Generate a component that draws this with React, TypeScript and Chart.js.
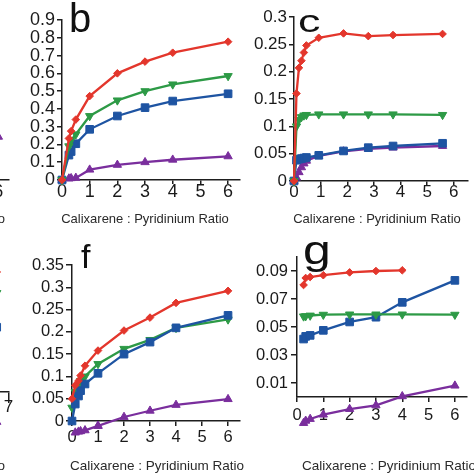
import React, { useEffect, useRef } from 'react';
import { Chart, registerables } from 'chart.js';
Chart.register(...registerables);

const RED = '#e3362c';
const GREEN = '#2d9a46';
const BLUE = '#1e54a2';
const PURPLE = '#7a2e9d';

const TITLE = 'Calixarene : Pyridinium Ratio';

// ---- Panel b ----
const bX = [0, 0.25, 0.33, 0.5, 1, 2, 3, 4, 6];
const bRed = [0, 0.234, 0.275, 0.34, 0.472, 0.6, 0.666, 0.716, 0.778];
const bGreen = [0, 0.19, 0.225, 0.257, 0.36, 0.448, 0.5, 0.538, 0.585];
const bBlue = [0, 0.14, 0.16, 0.204, 0.285, 0.36, 0.407, 0.444, 0.485];
const bPurple = [0, 0.008, 0.01, 0.012, 0.058, 0.085, 0.1, 0.114, 0.133];
const bYTicks = [0, 0.1, 0.2, 0.3, 0.4, 0.5, 0.6, 0.7, 0.8, 0.9];
const bXTicks = [0, 1, 2, 3, 4, 5, 6];

// ---- Panel c ----
const cX = [0, 0.093, 0.186, 0.279, 0.372, 0.465, 0.93, 1.86, 2.79, 3.72, 5.58];
const cRed = [0, 0.16, 0.207, 0.22, 0.235, 0.248, 0.262, 0.27, 0.265, 0.267, 0.269];
const cGreen = [0, 0.1, 0.112, 0.117, 0.12, 0.121, 0.122, 0.122, 0.122, 0.122, 0.121];
const cBlue = [0, 0.038, 0.04, 0.041, 0.042, 0.043, 0.047, 0.055, 0.061, 0.064, 0.069];
const cPurple = [0, 0.006, 0.016, 0.025, 0.032, 0.037, 0.046, 0.054, 0.059, 0.061, 0.064];
const cYTicks = [0, 0.05, 0.1, 0.15, 0.2, 0.25, 0.3];
const cXTicks = [0, 1, 2, 3, 4, 5, 6];

// ---- Panel f ----
const fX = [0, 0.125, 0.25, 0.33, 0.5, 1, 2, 3, 4, 6];
const fRed = [0.05, 0.08, 0.09, 0.102, 0.124, 0.158, 0.203, 0.232, 0.265, 0.292];
const fGreen = [0.03, 0.065, 0.075, 0.09, 0.1, 0.128, 0.162, 0.182, 0.209, 0.228];
const fBlue = [0, 0.038, 0.056, 0.068, 0.083, 0.107, 0.15, 0.177, 0.209, 0.237];
const fPurple = [null, -0.026, -0.024, -0.023, -0.021, -0.011, 0.009, 0.023, 0.036, 0.049];
const fYTicks = [0, 0.05, 0.1, 0.15, 0.2, 0.25, 0.3, 0.35];
const fXTicks = [0, 1, 2, 3, 4, 5, 6];

// ---- Panel g ----
const gX = [0.25, 0.33, 0.5, 1, 2, 3, 4, 6];
const gRed = [0.08, 0.085, 0.0857, 0.087, 0.089, 0.09, 0.0905, null];
const gGreen = [0.0576, 0.0578, 0.0582, 0.0588, 0.059, 0.059, 0.059, 0.0588];
const gBlue = [0.0414, 0.0433, 0.044, 0.0476, 0.0536, 0.057, 0.0676, 0.0833];
const gPurple = [-0.0186, -0.017, -0.0157, -0.0126, -0.0086, -0.006, 0.0005, 0.0081];
const gYTicks = [0.01, 0.03, 0.05, 0.07, 0.09];
const gXTicks = [0, 1, 2, 3, 4, 5, 6];

// ---- cut-off neighbour panels at the left edge ----
const aX = [6];
const aPurple = [0.27];
const aXTicks = [0, 1, 2, 3, 4, 5, 6];
const eX = [6.45];
const eRed = [0.945];
const eGreen = [0.78];
const eBlue = [0.51];
const ePurple = [-0.236];
const eXTicks = [0, 1, 2, 3, 4, 5, 6, 7];

const FONT = '"Liberation Sans", Arial, Helvetica, sans-serif';
const AXIS = '#1e1e1e';

type S = { vals: (number | null)[]; color: string; style: string; r: number; rot?: number };
const red = (v: (number | null)[], r = 3.8): S => ({ vals: v, color: RED, style: 'rectRot', r });
const green = (v: (number | null)[], r = 4.8): S => ({ vals: v, color: GREEN, style: 'triangle', r, rot: 180 });
const blue = (v: (number | null)[], r = 5.4): S => ({ vals: v, color: BLUE, style: 'rect', r });
const purple = (v: (number | null)[], r = 4.8): S => ({ vals: v, color: PURPLE, style: 'triangle', r });

type Spec = {
  box: { x: number; y: number; w: number; h: number };
  area: { l: number; r: number; t: number; b: number };
  xMax: number;
  yMin: number;
  yMax: number;
  xTicks: number[];
  yTicks?: number[];
  font: number;
  xTick: { len: number; pad: number };
  yTick?: { len: number; pad: number };
  xs: number[];
  series: S[];
  letter?: { text: string; x: number; base: number; size: number; sx?: number };
  title: { x: number; base: number; align: CanvasTextAlign; size: number };
};

const specs: Spec[] = [
  {
    box: { x: -250, y: 0, w: 265, h: 240 },
    area: { l: -164, r: 13, t: 20, b: 180 },
    xMax: 6.4, yMin: 0, yMax: 1, xTicks: aXTicks, font: 18,
    xTick: { len: 4, pad: -1 },
    xs: aX, series: [purple(aPurple)],
    title: { x: 5, base: 223, align: 'right', size: 13 },
  },
  {
    box: { x: -250, y: 240, w: 265, h: 234 },
    area: { l: -142.6, r: 13.5, t: 265, b: 392 },
    xMax: 7, yMin: 0, yMax: 1, xTicks: eXTicks, font: 17,
    xTick: { len: 11, pad: -4 },
    xs: eX, series: [red(eRed), green(eGreen), blue(eBlue), purple(ePurple)],
    title: { x: 5, base: 470, align: 'right', size: 13.5 },
  },
  {
    box: { x: 0, y: 0, w: 250, h: 240 },
    area: { l: 62, r: 240, t: 20, b: 180 },
    xMax: 6.43, yMin: 0, yMax: 0.9, xTicks: bXTicks, yTicks: bYTicks, font: 18,
    xTick: { len: 4, pad: -1 }, yTick: { len: 5, pad: 2 },
    xs: bX, series: [red(bRed), green(bGreen), blue(bBlue), purple(bPurple)],
    letter: { text: 'b', x: 69, base: 32, size: 40 },
    title: { x: 145, base: 223, align: 'center', size: 13 },
  },
  {
    box: { x: 237, y: 0, w: 237, h: 240 },
    area: { l: 294, r: 469, t: 17, b: 181 },
    xMax: 6.52, yMin: 0, yMax: 0.3, xTicks: cXTicks, yTicks: cYTicks, font: 17,
    xTick: { len: 4, pad: -1 }, yTick: { len: 5, pad: 2 },
    xs: cX, series: [red(cRed), green(cGreen), blue(cBlue), purple(cPurple)],
    letter: { text: 'c', x: 298, base: 32, size: 32, sx: 1.4 },
    title: { x: 377, base: 223, align: 'center', size: 13 },
  },
  {
    box: { x: 0, y: 240, w: 250, h: 234 },
    area: { l: 72, r: 240, t: 265, b: 421 },
    xMax: 6.46, yMin: 0, yMax: 0.35, xTicks: fXTicks, yTicks: fYTicks, font: 16.5,
    xTick: { len: 5, pad: 3 }, yTick: { len: 6, pad: 2 },
    xs: fX, series: [red(fRed), blue(fBlue), green(fGreen), purple(fPurple)],
    letter: { text: 'f', x: 81, base: 268, size: 34 },
    title: { x: 70, base: 470, align: 'left', size: 13.5 },
  },
  {
    box: { x: 237, y: 240, w: 237, h: 234 },
    area: { l: 297, r: 467, t: 257, b: 397 },
    xMax: 6.46, yMin: 0, yMax: 0.1, xTicks: gXTicks, yTicks: gYTicks, font: 16.5,
    xTick: { len: 5, pad: 5 }, yTick: { len: 6, pad: 3 },
    xs: gX, series: [red(gRed), green(gGreen), blue(gBlue), purple(gPurple)],
    letter: { text: 'g', x: 303, base: 264, size: 40, sx: 1.25 },
    title: { x: 302, base: 470, align: 'left', size: 13.5 },
  },
];

const Y_W = 45;
const X_H = 40;
const HUGE = { left: -1e5, top: -1e5, right: 1e5, bottom: 1e5 };

// Chart.js skips point markers that fall outside the chart area; the reference
// shows markers below the x axis, so redraw those with the library's own elements.
const outsidePoints = {
  id: 'outsidePoints',
  afterDatasetsDraw(chart: any) {
    const ctx = chart.ctx;
    const a = chart.chartArea;
    const metas = chart.getSortedVisibleDatasetMetas();
    for (let i = metas.length - 1; i >= 0; i--) {
      for (const el of metas[i].data) {
        const r = (el.options && el.options.radius) || 0;
        const inside = el.x >= a.left - r && el.x <= a.right + r && el.y >= a.top - r && el.y <= a.bottom + r;
        if (!inside) el.draw(ctx, HUGE);
      }
    }
  },
};

function Panel({ spec }: { spec: Spec }) {
  const ref = useRef<HTMLCanvasElement | null>(null);
  useEffect(() => {
    const canvas = ref.current;
    if (!canvas) return;
    const { box, area } = spec;
    const showY = !!spec.yTicks;
    const padding = {
      left: area.l - box.x - (showY ? Y_W : 0),
      right: box.x + box.w - area.r,
      top: area.t - box.y,
      bottom: box.y + box.h - area.b - X_H,
    };
    const datasets = spec.series.map((s) => ({
      data: spec.xs
        .map((x, i) => ({ x, y: s.vals[i] }))
        .filter((p) => p.y !== null && p.y !== undefined),
      borderColor: s.color,
      backgroundColor: s.color,
      borderWidth: 2.3,
      pointStyle: s.style as any,
      pointRadius: s.r,
      pointRotation: s.rot || 0,
      pointBorderWidth: 1,
      pointBorderColor: s.color,
      pointBackgroundColor: s.color,
      tension: 0,
      clip: false as any,
    }));
    const textPlugin = {
      id: 'panelText',
      afterDraw(chart: any) {
        const ctx: CanvasRenderingContext2D = chart.ctx;
        ctx.save();
        if (spec.letter) {
          const L = spec.letter;
          ctx.fillStyle = '#111';
          ctx.font = `${L.size}px ${FONT}`;
          ctx.textAlign = 'left';
          ctx.textBaseline = 'alphabetic';
          ctx.translate(L.x - box.x, L.base - box.y);
          ctx.scale(L.sx || 1, 1);
          ctx.fillText(L.text, 0, 0);
          ctx.setTransform(1, 0, 0, 1, 0, 0);
        }
        ctx.fillStyle = '#2a2a2a';
        ctx.font = `${spec.title.size}px ${FONT}`;
        ctx.textAlign = spec.title.align;
        ctx.textBaseline = 'alphabetic';
        ctx.fillText(TITLE, spec.title.x - box.x, spec.title.base - box.y);
        ctx.restore();
      },
    };
    const tickFont = { family: FONT, size: spec.font, lineHeight: 1 };
    const chart = new Chart(canvas, {
      type: 'line',
      data: { datasets },
      plugins: [outsidePoints, textPlugin],
      options: {
        animation: false,
        responsive: false,
        devicePixelRatio: 1,
        layout: { padding },
        plugins: { legend: { display: false }, tooltip: { enabled: false } },
        scales: {
          x: {
            type: 'linear',
            min: 0,
            max: spec.xMax,
            afterFit: (s: any) => { s.height = X_H; },
            afterBuildTicks: (s: any) => { s.ticks = spec.xTicks.map((v) => ({ value: v })); },
            ticks: {
              autoSkip: false,
              maxRotation: 0,
              minRotation: 0,
              font: tickFont,
              color: '#1a1a1a',
              padding: spec.xTick.pad,
              callback: (v: any) => String(v),
            },
            grid: { drawOnChartArea: false, drawTicks: true, tickLength: spec.xTick.len, color: AXIS, lineWidth: 1.5 },
            border: { display: true, color: AXIS, width: 1.5 },
          },
          y: showY
            ? {
                type: 'linear',
                min: spec.yMin,
                max: spec.yMax,
                afterFit: (s: any) => { s.width = Y_W; },
                afterBuildTicks: (s: any) => { s.ticks = (spec.yTicks || []).map((v) => ({ value: v })); },
                ticks: {
                  autoSkip: false,
                  font: tickFont,
                  color: '#1a1a1a',
                  padding: spec.yTick ? spec.yTick.pad : 2,
                  callback: (v: any) => String(parseFloat(Number(v).toFixed(4))),
                },
                grid: { drawOnChartArea: false, drawTicks: true, tickLength: spec.yTick ? spec.yTick.len : 5, color: AXIS, lineWidth: 1.5 },
                border: { display: true, color: AXIS, width: 1.5 },
              }
            : { type: 'linear', display: false, min: spec.yMin, max: spec.yMax },
        },
      } as any,
    });
    return () => chart.destroy();
  }, [spec]);
  const { box } = spec;
  return (
    <canvas
      ref={ref}
      width={box.w}
      height={box.h}
      style={{ position: 'absolute', left: box.x, top: box.y, width: box.w, height: box.h }}
    />
  );
}

export default function App() {
  return (
    <div
      style={{
        position: 'fixed',
        left: 0,
        top: 0,
        width: 474,
        height: 474,
        overflow: 'hidden',
        background: '#ffffff',
      }}
    >
      {specs.map((s, i) => (
        <Panel key={i} spec={s} />
      ))}
    </div>
  );
}
